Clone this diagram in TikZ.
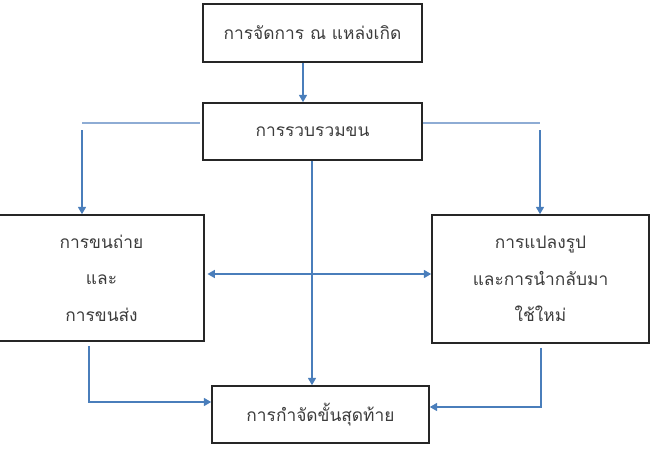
\documentclass[tikz,border=0pt]{standalone}
\usepackage{fontspec}
\usepackage{xcolor}
\usepackage{tikz}
\usetikzlibrary{arrows.meta}
\newfontfamily\thaifont[Script=Thai]{Loma}
\definecolor{linkblue}{RGB}{74,126,187}
\definecolor{forkblue}{RGB}{142,172,212}
\definecolor{boxtext}{RGB}{60,60,60}
\tikzset{
    stagebox/.style={draw=black!85, line width=1.2pt, rectangle, align=center, text=boxtext, inner sep=0pt, font=\thaifont\fontsize{13}{27.4}\selectfont},
    flow/.style={linkblue, line width=1.1pt, -{Triangle[width=6pt,length=5.5pt]}},
    twoway/.style={linkblue, line width=1.1pt, {Triangle[width=6pt,length=5.5pt]}-{Triangle[width=6pt,length=5.5pt]}},
    fork/.style={forkblue, line width=1.8pt}
}

\begin{document}
\begin{tikzpicture}[x=0.75pt, y=-0.75pt]
            \useasboundingbox (0,0) rectangle (650,450);
            \node[stagebox, minimum width=164.25pt, minimum height=43.5pt] (source) at (312.5,33) {การจัดการ ณ แหล่งเกิด};
            \node[stagebox, minimum width=164.25pt, minimum height=42.75pt] (collect) at (312.5,131.5) {การรวบรวมขน};
            \node[stagebox, minimum width=153.75pt, minimum height=94.5pt] (transfer) at (101.5,278) {การขนถ่าย\\และ\\การขนส่ง};
            \node[stagebox, minimum width=162.75pt, minimum height=96pt] (recycle) at (540.5,279) {การแปลงรูป\\และการนำกลับมา\\ใช้ใหม่};
            \node[stagebox, minimum width=162.75pt, minimum height=42.75pt] (disposal) at (320.5,414.5) {การกำจัดขั้นสุดท้าย};

            \coordinate (srcdrop) at (303,0);
            \coordinate (spine) at (312,0);
            \coordinate (leftfork) at (82,123);
            \coordinate (rightfork) at (540,123);
            \coordinate (crossing) at (0,274);
            \coordinate (leftdrop) at (89,402);
            \coordinate (rightdrop) at (541,407);

            \draw[flow] (srcdrop |- source.south) -- (srcdrop |- collect.north);
            \draw[fork, shorten >=2pt] (leftfork) -- (leftfork -| collect.west);
            \draw[fork] (collect.east |- rightfork) -- (rightfork);
            \draw[flow] (leftfork) ++(0,7) -- (leftfork |- transfer.north);
            \draw[flow] (rightfork) ++(0,7) -- (rightfork |- recycle.north);
            \draw[flow] (spine |- collect.south) -- (spine |- disposal.north);
            \draw[twoway, shorten <=2pt] (transfer.east |- crossing) -- (recycle.west |- crossing);
            \draw[flow, shorten <=3pt] (transfer.south -| leftdrop) |- (disposal.west |- leftdrop);
            \draw[flow, shorten <=3pt] (recycle.south -| rightdrop) |- (disposal.east |- rightdrop);
        \end{tikzpicture}
\end{document}
